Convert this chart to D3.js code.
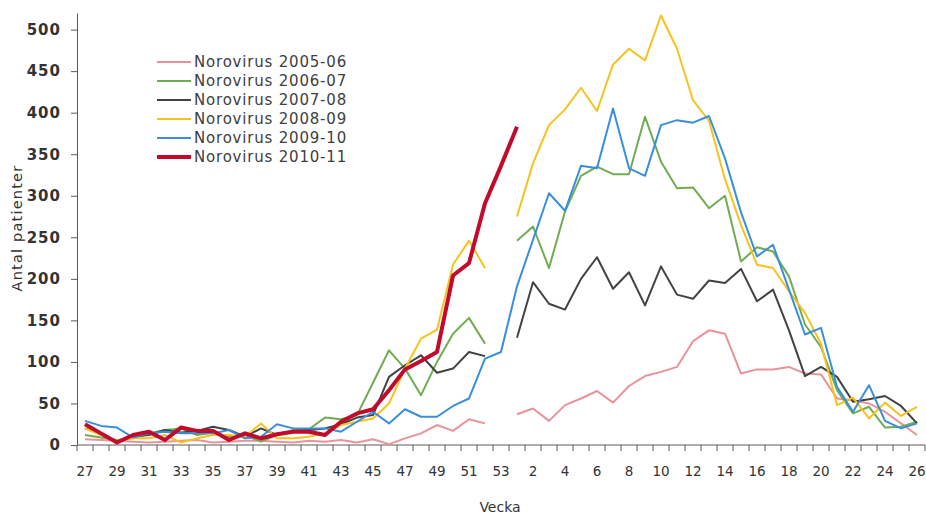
<!DOCTYPE html>
<html lang="sv">
	<head>
		<meta charset="utf-8">
		<title>Norovirus per vecka</title>
		<script type="text/javascript" src="https://d3js.org/d3.v7.min.js"></script>
		<style type="text/css">
			body {
				margin: 0;
				background-color: #ffffff;
			}
			text {
				font-family: "DejaVu Sans", Verdana, sans-serif;
			}
			.axis path, .axis line {
				stroke: #5a5a5a;
			}
		</style>
	</head>
	<body>
		<script type="text/javascript">

			//Weeks on the x axis (season runs week 27 to week 26)
			var weeks = [27,28,29,30,31,32,33,34,35,36,37,38,39,40,41,42,43,44,45,46,47,48,49,50,51,52,53,
			             1,2,3,4,5,6,7,8,9,10,11,12,13,14,15,16,17,18,19,20,21,22,23,24,25,26];

			var seasonNames = ["Norovirus 2005-06","Norovirus 2006-07","Norovirus 2007-08",
			                   "Norovirus 2008-09","Norovirus 2009-10","Norovirus 2010-11"];

			//Patients per week, one array per season (null = no value)
			var noro0506 = [7,6,5,4,3,4,5,6,3,4,5,5,4,3,5,4,6,3,7,1,8,14,24,17,31,26,null,
			                37,44,29,48,56,65,51,71,83,88,94,125,138,134,86,91,91,94,86,85,56,54,50,40,26,12];
			var noro0607 = [12,9,6,8,14,18,20,12,15,10,12,4,12,18,19,33,31,36,75,114,92,60,100,134,153,122,null,
			                246,263,213,281,324,335,326,326,395,341,309,310,285,300,221,238,233,203,145,118,66,38,46,21,22,28];
			var noro0708 = [20,13,4,10,12,18,15,17,22,18,10,20,12,17,18,20,25,33,36,82,96,108,87,92,112,107,null,
			                129,196,170,163,200,226,188,208,168,215,181,176,198,195,212,173,187,138,83,94,82,52,55,59,47,26];
			var noro0809 = [20,12,5,8,8,12,3,8,12,12,10,26,8,8,10,14,24,28,32,50,92,128,139,217,246,213,null,
			                275,339,385,404,430,402,458,477,463,517,477,415,390,320,265,217,213,185,159,122,48,57,32,51,35,46];
			var noro0910 = [29,23,21,9,14,16,14,14,14,18,8,10,25,20,20,20,16,28,40,26,43,34,34,47,56,104,112,
			                191,247,303,282,336,333,405,333,324,385,391,388,396,345,280,227,241,187,133,141,70,40,72,29,20,26];
			var noro1011 = [25,14,3,12,16,6,21,17,17,6,14,8,13,16,16,12,28,38,43,66,91,101,112,204,219,291,336,
			                383,null,null,null,null,null,null,null,null,null,null,null,null,null,null,null,null,null,null,null,null,null,null,null,null,null];

			var seasonValues = [noro0506, noro0607, noro0708, noro0809, noro0910, noro1011];
			var seasonColors = ["#e8939c","#70ac52","#424242","#f7c21e","#3a8fdc","#c20a2c"];
			var seasonWidths = [2,2,2,2,2,4];

			var yTicks = [0,50,100,150,200,250,300,350,400,450,500];

			//Width and height
			var w = 926;
			var h = 516;

			var svg = d3.select("body")
						.append("svg")
						.attr("width", w)
						.attr("height", h);

			//Scales
			var x = d3.scaleBand()
					  .domain(weeks)
					  .range([77, 77 + weeks.length * 16])
					  .padding(0);

			var y = d3.scaleLinear()
					  .domain([0, 520])
					  .range([445, 13]);

			//X axis: labels on every other week, ticks between weeks
			var xLabels = weeks.filter(function(d, i) { return i % 2 == 0; });

			var xAxis = svg.append("g")
				.attr("class", "axis")
				.attr("transform", "translate(0,445)")
				.call(d3.axisBottom(x).tickValues(xLabels).tickSize(0).tickPadding(21));

			xAxis.select(".domain").remove();
			xAxis.selectAll("text")
				.attr("font-size", "13.5px")
				.attr("fill", "#333333")
				.attr("font-family", "\"DejaVu Sans\", Verdana, sans-serif");

			svg.append("line")
				.attr("x1", 77).attr("x2", x.range()[1])
				.attr("y1", 445).attr("y2", 445)
				.attr("stroke", "#5a5a5a");

			svg.selectAll(".xtick")
				.data(d3.range(weeks.length + 1))
				.enter()
				.append("line")
				.attr("class", "xtick")
				.attr("x1", function(d) { return 77 + d * x.bandwidth(); })
				.attr("x2", function(d) { return 77 + d * x.bandwidth(); })
				.attr("y1", 445)
				.attr("y2", 451)
				.attr("stroke", "#5a5a5a");

			//Y axis
			var yAxis = svg.append("g")
				.attr("class", "axis")
				.attr("transform", "translate(77,0)")
				.call(d3.axisLeft(y).tickValues(yTicks).tickSize(6).tickSizeOuter(0).tickPadding(10));

			yAxis.selectAll("text")
				.attr("font-size", "15px")
				.attr("font-weight", "bold")
				.attr("letter-spacing", "1px")
				.attr("fill", "#333333")
				.attr("font-family", "\"DejaVu Sans\", Verdana, sans-serif");

			//Axis titles
			svg.append("text")
				.attr("transform", "translate(22,228) rotate(-90)")
				.attr("text-anchor", "middle")
				.attr("font-size", "14.5px")
				.attr("letter-spacing", "1.2px")
				.attr("fill", "#333333")
				.text("Antal patienter");

			svg.append("text")
				.attr("x", 500)
				.attr("y", 512)
				.attr("text-anchor", "middle")
				.attr("font-size", "14px")
				.attr("fill", "#333333")
				.text("Vecka");

			//Lines, one per season, gaps where there is no value
			var line = d3.line()
				.defined(function(d) { return d.v != null; })
				.x(function(d) { return x(d.week) + x.bandwidth() / 2; })
				.y(function(d) { return y(d.v); });

			seasonValues.forEach(function(vals, s) {
				var pts = weeks.map(function(wk, i) { return {week: wk, v: vals[i]}; });
				svg.append("path")
					.datum(pts)
					.attr("fill", "none")
					.attr("stroke", seasonColors[s])
					.attr("stroke-width", seasonWidths[s])
					.attr("stroke-linejoin", "round")
					.attr("d", line);
			});

			//Legend
			var legend = svg.append("g")
				.attr("transform", "translate(157,62)");

			var rows = legend.selectAll("g")
				.data(seasonNames)
				.enter()
				.append("g")
				.attr("transform", function(d, i) { return "translate(0," + (i * 19) + ")"; });

			rows.append("line")
				.attr("x1", 0).attr("x2", 34)
				.attr("y1", 0).attr("y2", 0)
				.attr("stroke", function(d, i) { return seasonColors[i]; })
				.attr("stroke-width", function(d, i) { return seasonWidths[i]; });

			rows.append("text")
				.attr("x", 37)
				.attr("y", 5)
				.attr("font-size", "15px")
				.attr("letter-spacing", "0.8px")
				.attr("fill", "#404040")
				.text(function(d) { return d; });

		</script>
	</body>
</html>
